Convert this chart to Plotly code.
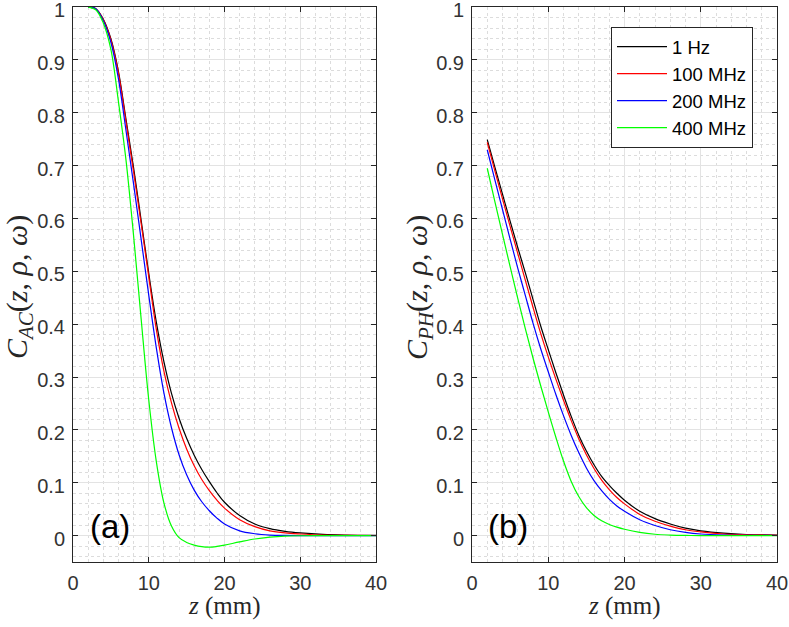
import plotly.graph_objects as go

z = [2, 3, 4, 5, 6, 7, 8, 9, 10, 11, 12, 13, 14, 15, 16, 17, 18, 19, 20,
     22, 24, 26, 28, 30, 33, 36, 40]

labels = ["1 Hz", "100 MHz", "200 MHz", "400 MHz"]
colors = ["#000000", "#ff0000", "#0000ff", "#00ff00"]

# Panel (a): C_AC
ac_1hz = [1.0, 0.997, 0.977, 0.94, 0.878, 0.787, 0.696, 0.596, 0.496, 0.404, 0.329, 0.269,
          0.222, 0.184, 0.152, 0.125, 0.102, 0.081, 0.063, 0.038, 0.022, 0.013, 0.008,
          0.005, 0.0022, 0.001, 0.0003]
ac_100 = [1.0, 0.997, 0.976, 0.938, 0.875, 0.782, 0.688, 0.59, 0.49, 0.39, 0.311, 0.251,
          0.203, 0.164, 0.132, 0.106, 0.085, 0.067, 0.052, 0.03, 0.017, 0.009, 0.005,
          0.003, 0.001, 0.0005, 0.0001]
ac_200 = [1.0, 0.997, 0.974, 0.933, 0.864, 0.766, 0.665, 0.56, 0.455, 0.355, 0.27, 0.204,
          0.153, 0.115, 0.086, 0.064, 0.047, 0.033, 0.022, 0.009, 0.0035, 0.001, 0.0002,
          0.0, 0.0, 0.0, 0.0]
ac_400 = [1.0, 0.995, 0.97, 0.92, 0.821, 0.71, 0.567, 0.409, 0.257, 0.14, 0.062, 0.018,
          -0.004, -0.013, -0.018, -0.021, -0.022, -0.0205, -0.018, -0.012, -0.0065, -0.003,
          -0.001, -0.0003, 0.0, 0.0, 0.0]

# Panel (b): C_PH
ph_1hz = [0.749, 0.697, 0.646, 0.595, 0.545, 0.497, 0.447, 0.397, 0.352, 0.308, 0.266,
          0.226, 0.19, 0.16, 0.134, 0.112, 0.095, 0.08, 0.067, 0.046, 0.032, 0.022,
          0.014, 0.009, 0.0045, 0.002, 0.0008]
ph_100 = [0.744, 0.69, 0.637, 0.585, 0.534, 0.483, 0.432, 0.383, 0.338, 0.296, 0.256,
          0.218, 0.183, 0.153, 0.127, 0.105, 0.087, 0.072, 0.06, 0.04, 0.027, 0.018,
          0.011, 0.007, 0.003, 0.0015, 0.0005]
ph_200 = [0.73, 0.673, 0.617, 0.561, 0.506, 0.454, 0.402, 0.354, 0.31, 0.267, 0.227,
          0.19, 0.157, 0.128, 0.104, 0.085, 0.069, 0.056, 0.046, 0.03, 0.019, 0.011,
          0.006, 0.003, 0.001, 0.0003, 0.0001]
ph_400 = [0.695, 0.632, 0.57, 0.509, 0.449, 0.391, 0.336, 0.284, 0.234, 0.186, 0.141,
          0.103, 0.074, 0.053, 0.038, 0.028, 0.021, 0.016, 0.012, 0.006, 0.0025, 0.001,
          0.0003, 0.0, 0.0, 0.0, 0.0]

x_ticks = [0, 10, 20, 30, 40]
y_ticks = [0, 0.1, 0.2, 0.3, 0.4, 0.5, 0.6, 0.7, 0.8, 0.9, 1]
y_ticktext = ["0", "0.1", "0.2", "0.3", "0.4", "0.5", "0.6", "0.7", "0.8", "0.9", "1"]

fig = go.Figure()
for i, (ys, name) in enumerate(zip([ac_1hz, ac_100, ac_200, ac_400], labels)):
    fig.add_trace(go.Scatter(x=z, y=ys, mode="lines", name=name, showlegend=False,
                             line=dict(color=colors[i], width=1.2, shape="spline", smoothing=1.0),
                             xaxis="x", yaxis="y"))
for i, (ys, name) in enumerate(zip([ph_1hz, ph_100, ph_200, ph_400], labels)):
    fig.add_trace(go.Scatter(x=z, y=ys, mode="lines", name=name,
                             line=dict(color=colors[i], width=1.2, shape="spline", smoothing=1.0),
                             xaxis="x2", yaxis="y2"))

axcol = "#262626"
tickfont = dict(family="Liberation Sans, Arial", size=20, color="#333333")
serif = "Liberation Serif, DejaVu Serif"
grid = dict(showgrid=True, gridcolor="#e3e3e3", gridwidth=1, automargin=False,
            showline=True, linecolor=axcol, linewidth=1, mirror="ticks",
            ticks="inside", ticklen=5, tickcolor=axcol, zeroline=False,
            tickfont=tickfont, ticklabelstandoff=3, ticklabeloverflow="allow")
minor = dict(showgrid=True, gridcolor="#dcdcdc", griddash="dot", gridwidth=1, ticks="")

W, H = 789, 627
ydom = [1 - 562 / H, 1 - 7 / H]

xcommon = dict(range=[0, 40], tickvals=x_ticks, minor=dict(dtick=2, **minor), **grid)
ycommon = dict(range=[-0.05, 1.0001], tickvals=y_ticks, ticktext=y_ticktext,
               ticklabelshift=3,
               minor=dict(dtick=0.02, tick0=0, **minor), **grid)

def px(xp, yp):
    return xp / W, 1 - yp / H

annots = []
for (xp, yp, text, ang, sz) in [
        (19, 287, "<i>C<sub>AC</sub></i>(<i>z</i>, <i>ρ</i>, <i>ω</i>)", -90, 30),
        (419, 287, "<i>C<sub>PH</sub></i>(<i>z</i>, <i>ρ</i>, <i>ω</i>)", -90, 30),
        (224, 606, "<i>z</i> (mm)", 0, 25),
        (624, 606, "<i>z</i> (mm)", 0, 25)]:
    ax_, ay_ = px(xp, yp)
    annots.append(dict(text=text, x=ax_, y=ay_, xref="paper", yref="paper",
                       xanchor="center", yanchor="middle", showarrow=False,
                       textangle=ang, font=dict(family=serif, size=sz, color="#262626")))
annots += [
    dict(text="(a)", x=4.85, y=0.018, xref="x", yref="y", showarrow=False,
         font=dict(family="Liberation Sans, Arial", size=33, color="#000000")),
    dict(text="(b)", x=4.75, y=0.018, xref="x2", yref="y2", showarrow=False,
         font=dict(family="Liberation Sans, Arial", size=33, color="#000000")),
]

fig.update_layout(
    width=W, height=H,
    margin=dict(l=0, r=0, t=0, b=0, autoexpand=False),
    paper_bgcolor="white", plot_bgcolor="white",
    xaxis=dict(domain=[73 / W, 376 / W], anchor="y", **xcommon),
    yaxis=dict(domain=ydom, anchor="x", **ycommon),
    xaxis2=dict(domain=[472 / W, 777 / W], anchor="y2", **xcommon),
    yaxis2=dict(domain=ydom, anchor="x2", **ycommon),
    legend=dict(x=611 / W, y=1 - 27 / H, xanchor="left", yanchor="top",
                bgcolor="white", bordercolor=axcol, borderwidth=1,
                font=dict(family="Liberation Sans, Arial", size=18.5, color="#000000"),
                itemwidth=50),
    showlegend=True,
    annotations=annots,
)

fig.write_html("out.html", config={"displayModeBar": False},
               post_script="document.body.style.margin='0';document.body.style.overflow='hidden';")
